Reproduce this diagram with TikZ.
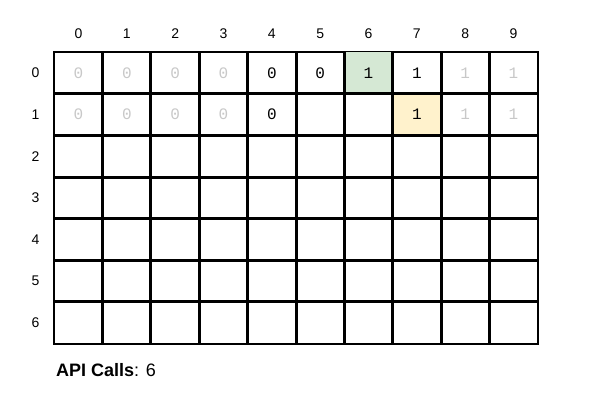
\documentclass[tikz,border=0pt]{standalone}
\usepackage{fontspec}
\setmainfont{Liberation Sans}
\newfontfamily\monofont{Liberation Mono}
\definecolor{gridgreen}{HTML}{D5E8D4}
\definecolor{gridyellow}{HTML}{FFF2CC}
\definecolor{fadedgray}{HTML}{C8C8C8}
\begin{document}
\begin{tikzpicture}[x=1pt,y=-1pt,
  cellbox/.style={draw=black,line width=1.5pt,minimum width=48.34pt,minimum height=41.6pt,inner sep=0pt,anchor=center,font=\monofont\fontsize{16}{16}\selectfont},
  faded/.style={text=fadedgray},
  hdr/.style={font=\fontsize{14}{14}\selectfont,inner sep=0pt}]
\useasboundingbox (0,0) rectangle (600,400);
% cells
\foreach \r in {0,...,6}{
  \foreach \c in {0,...,9}{
    \node[cellbox] (c-\r-\c) at ({54.3+48.34*(\c+0.5)},{52.3+41.6*(\r+0.5)}) {};
  }
}
% fills
\fill[gridgreen] (c-0-6.south west) rectangle (c-0-6.north east);
\fill[gridyellow] (c-1-7.south west) rectangle (c-1-7.north east);
% grid lines
\foreach \r in {0,...,6}{
  \foreach \c in {0,...,9}{
    \draw[line width=1.5pt] (c-\r-\c.south west) rectangle (c-\r-\c.north east);
  }
}
% values
\foreach \c in {0,...,3}{
  \node[faded,font=\monofont\fontsize{16}{16}\selectfont] at (c-0-\c) {0};
  \node[faded,font=\monofont\fontsize{16}{16}\selectfont] at (c-1-\c) {0};
}
\node[font=\monofont\fontsize{16}{16}\selectfont] at (c-0-4) {0};
\node[font=\monofont\fontsize{16}{16}\selectfont] at (c-0-5) {0};
\node[font=\monofont\fontsize{16}{16}\selectfont] at (c-0-6) {1};
\node[font=\monofont\fontsize{16}{16}\selectfont] at (c-0-7) {1};
\node[faded,font=\monofont\fontsize{16}{16}\selectfont] at (c-0-8) {1};
\node[faded,font=\monofont\fontsize{16}{16}\selectfont] at (c-0-9) {1};
\node[font=\monofont\fontsize{16}{16}\selectfont] at (c-1-4) {0};
\node[font=\monofont\fontsize{16}{16}\selectfont] at (c-1-7) {1};
\node[faded,font=\monofont\fontsize{16}{16}\selectfont] at (c-1-8) {1};
\node[faded,font=\monofont\fontsize{16}{16}\selectfont] at (c-1-9) {1};
% headers
\foreach \c in {0,...,9}{
  \node[hdr] (col-\c) at ({54.3+48.34*(\c+0.5)},34) {\c};
}
\foreach \r in {0,...,6}{
  \node[hdr] (row-\r) at (35.5,{52.3+41.6*(\r+0.5)}) {\r};
}
\node[anchor=base west,inner sep=0pt,font=\fontsize{18}{18}\selectfont] (api) at (56,376) {\textbf{API Calls}: 6};
\end{tikzpicture}
\end{document}
